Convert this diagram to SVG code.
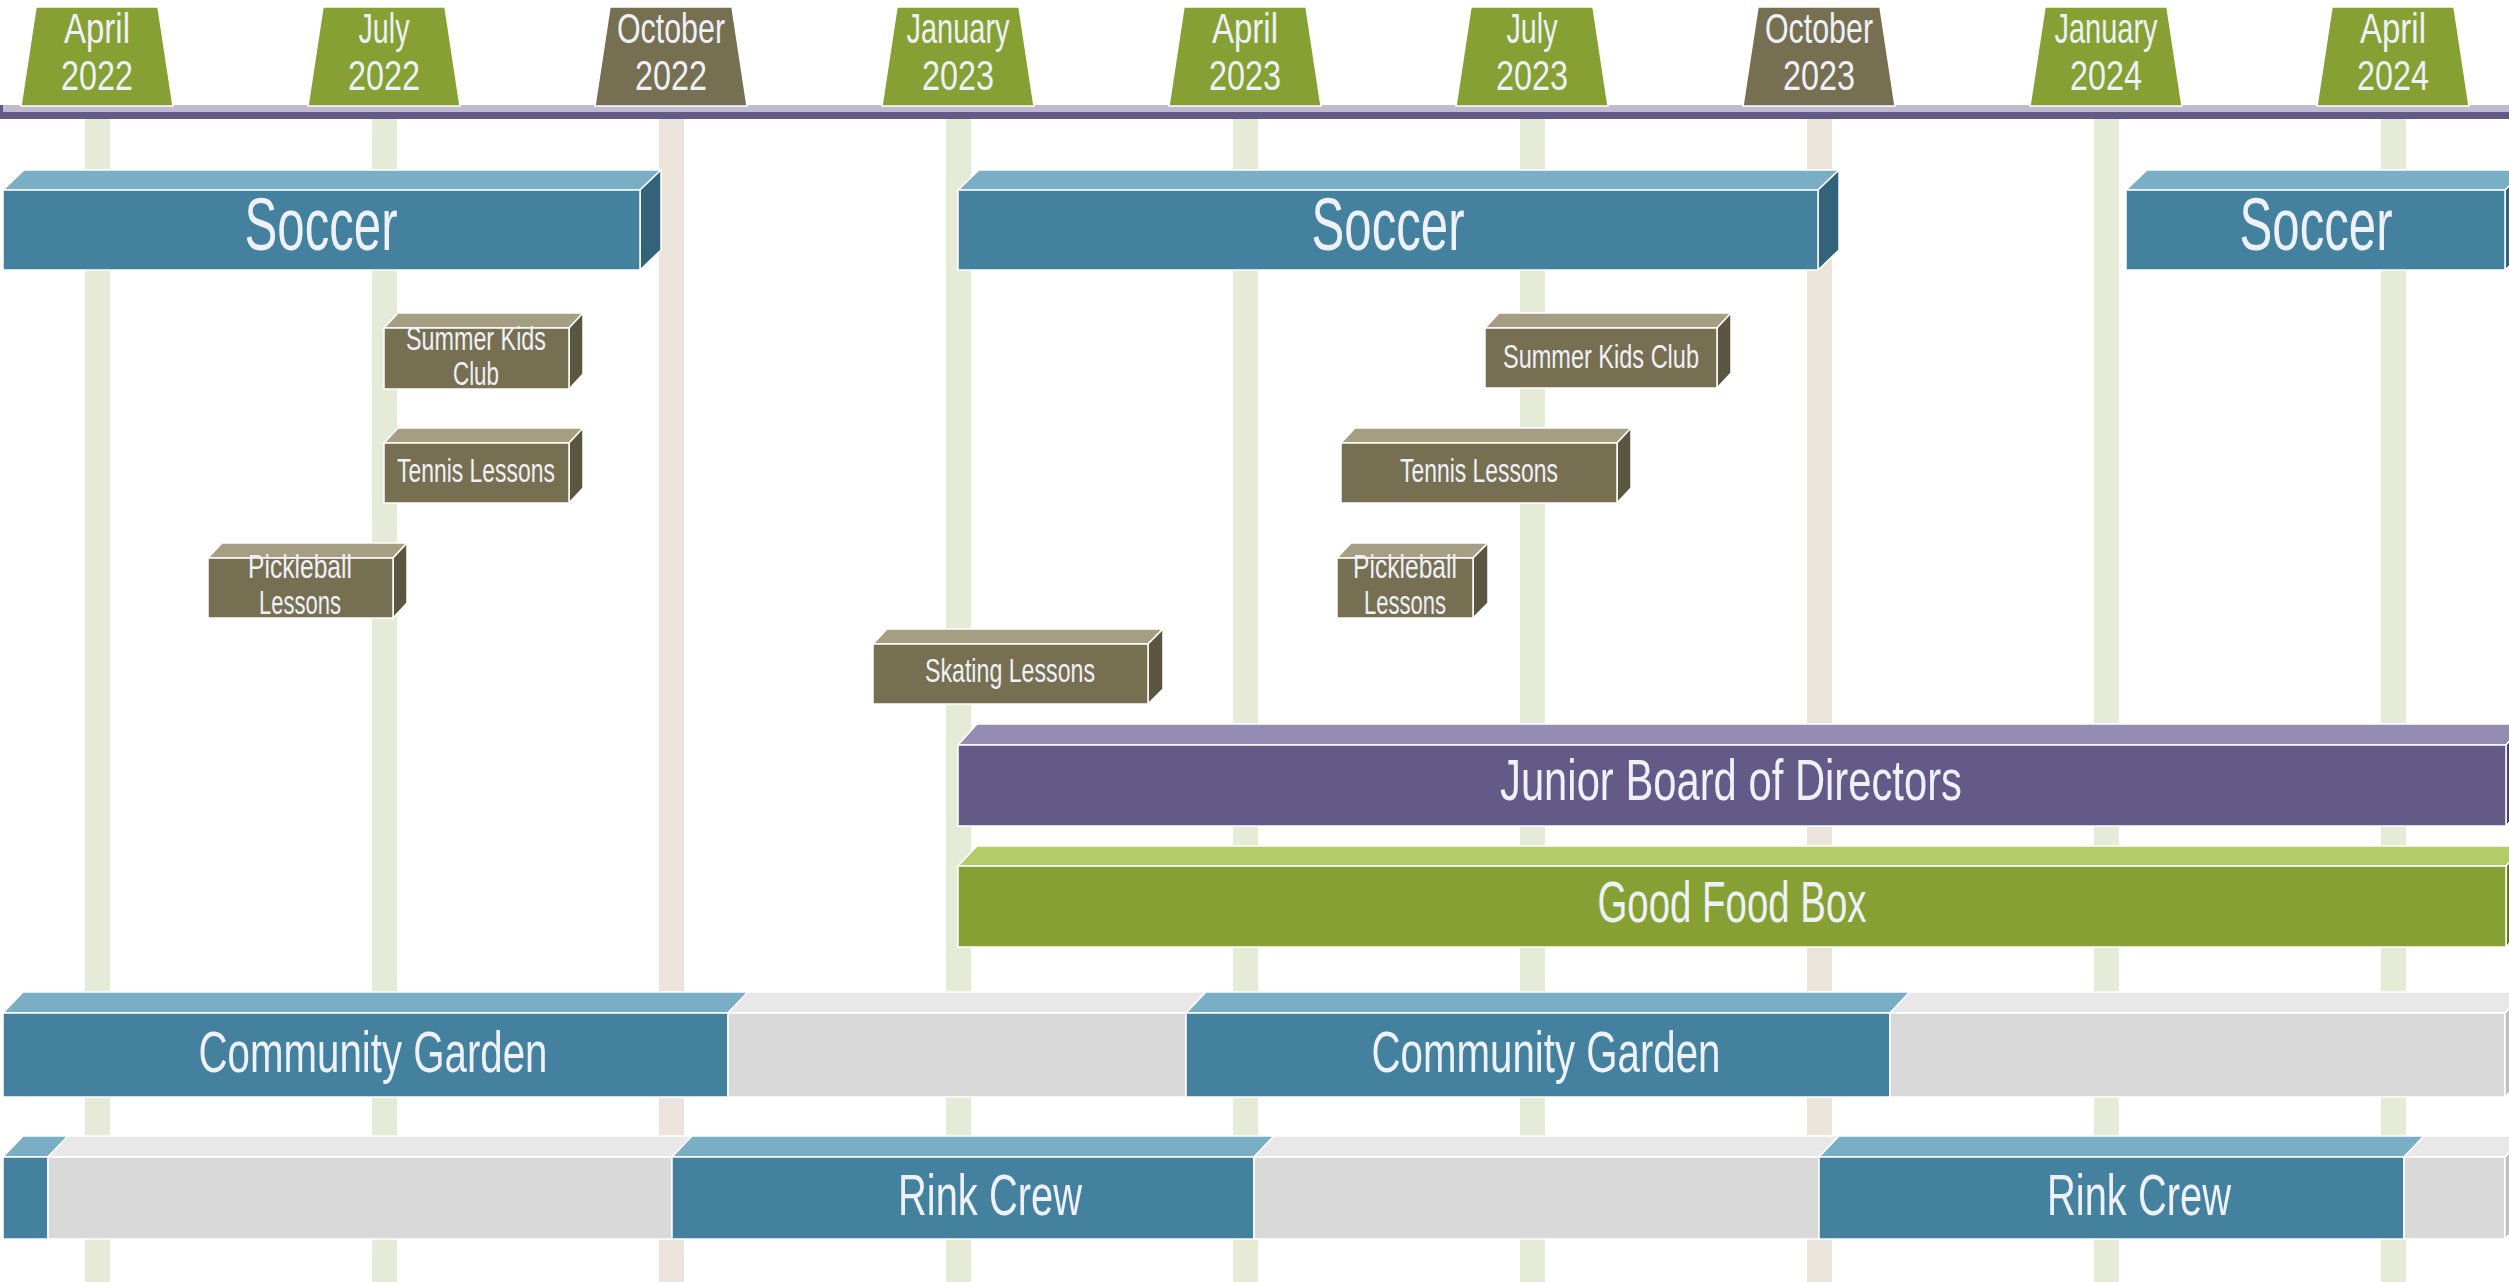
<svg xmlns="http://www.w3.org/2000/svg" width="2509" height="1282" viewBox="0 0 2509 1282">
<style>
text{font-family:"Liberation Sans",Arial,sans-serif;fill:#EEF1F8;text-anchor:middle}
.tab{font-size:43px}
.big{font-size:74px}
.mid{font-size:58px}
.sm{font-size:34px}
.gl{fill:#E6EBD8}
.gt{fill:#EAE4DB}
.tg{fill:#86A033;stroke:#fff;stroke-width:1.5}
.tb{fill:#776F52;stroke:#fff;stroke-width:1.5}
.f{stroke:#fff;stroke-width:1.5}
.bf{fill:#43819E}.bt{fill:#79AEC5}.bs{fill:#336379}
.nf{fill:#776F52}.nt{fill:#A69E82}.ns{fill:#5B563F}
.pf{fill:#635A87}.pt{fill:#948CB3}.ps{fill:#4A4366}
.gf{fill:#86A033}.gtp{fill:#B3CC68}.gs{fill:#66792A}
.yf{fill:#D9D9D9}.yt{fill:#E8E8E8}.ys{fill:#BFBFBF}
</style>
<rect width="2509" height="1282" fill="#fff"/>
<g id="gridlines">
<rect class="gl" x="85" y="118" width="25" height="1164"/>
<rect class="gl" x="372" y="118" width="25" height="1164"/>
<rect class="gt" x="659" y="118" width="25" height="1164"/>
<rect class="gl" x="946" y="118" width="25" height="1164"/>
<rect class="gl" x="1233" y="118" width="25" height="1164"/>
<rect class="gl" x="1520" y="118" width="25" height="1164"/>
<rect class="gt" x="1807" y="118" width="25" height="1164"/>
<rect class="gl" x="2094" y="118" width="25" height="1164"/>
<rect class="gl" x="2381" y="118" width="25" height="1164"/>
</g>
<g id="timeline-bar">
<rect x="0" y="105" width="2509" height="7" fill="#BFBAD0"/>
<rect x="0" y="112" width="2509" height="7" fill="#635A87"/>
<rect x="0" y="105" width="3" height="8" fill="#635A87"/>
</g>
<g id="tab-apr22"><polygon class="tg" points="36,7 158,7 173,106 21,106"/><text class="tab" x="97" y="43" textLength="66" lengthAdjust="spacingAndGlyphs">April</text><text class="tab" x="97" y="90" textLength="72" lengthAdjust="spacingAndGlyphs">2022</text></g>
<g id="tab-jul22"><polygon class="tg" points="323,7 445,7 460,106 308,106"/><text class="tab" x="384" y="43" textLength="51" lengthAdjust="spacingAndGlyphs">July</text><text class="tab" x="384" y="90" textLength="72" lengthAdjust="spacingAndGlyphs">2022</text></g>
<g id="tab-oct22"><polygon class="tb" points="610,7 732,7 747,106 595,106"/><text class="tab" x="671" y="43" textLength="108" lengthAdjust="spacingAndGlyphs">October</text><text class="tab" x="671" y="90" textLength="72" lengthAdjust="spacingAndGlyphs">2022</text></g>
<g id="tab-jan23"><polygon class="tg" points="897,7 1019,7 1034,106 882,106"/><text class="tab" x="958" y="43" textLength="103" lengthAdjust="spacingAndGlyphs">January</text><text class="tab" x="958" y="90" textLength="72" lengthAdjust="spacingAndGlyphs">2023</text></g>
<g id="tab-apr23"><polygon class="tg" points="1184,7 1306,7 1321,106 1169,106"/><text class="tab" x="1245" y="43" textLength="66" lengthAdjust="spacingAndGlyphs">April</text><text class="tab" x="1245" y="90" textLength="72" lengthAdjust="spacingAndGlyphs">2023</text></g>
<g id="tab-jul23"><polygon class="tg" points="1471,7 1593,7 1608,106 1456,106"/><text class="tab" x="1532" y="43" textLength="51" lengthAdjust="spacingAndGlyphs">July</text><text class="tab" x="1532" y="90" textLength="72" lengthAdjust="spacingAndGlyphs">2023</text></g>
<g id="tab-oct23"><polygon class="tb" points="1758,7 1880,7 1895,106 1743,106"/><text class="tab" x="1819" y="43" textLength="108" lengthAdjust="spacingAndGlyphs">October</text><text class="tab" x="1819" y="90" textLength="72" lengthAdjust="spacingAndGlyphs">2023</text></g>
<g id="tab-jan24"><polygon class="tg" points="2045,7 2167,7 2182,106 2030,106"/><text class="tab" x="2106" y="43" textLength="103" lengthAdjust="spacingAndGlyphs">January</text><text class="tab" x="2106" y="90" textLength="72" lengthAdjust="spacingAndGlyphs">2024</text></g>
<g id="tab-apr24"><polygon class="tg" points="2332,7 2454,7 2469,106 2317,106"/><text class="tab" x="2393" y="43" textLength="66" lengthAdjust="spacingAndGlyphs">April</text><text class="tab" x="2393" y="90" textLength="72" lengthAdjust="spacingAndGlyphs">2024</text></g>

<g id="soccer-1"><polygon class="bt f" points="3,190 24,170 661,170 640,190"/><polygon class="bs f" points="640,190 661,170 661,250 640,270"/><rect class="bf f" x="3" y="190" width="637" height="80"/><text class="big" x="321" y="250" textLength="153" lengthAdjust="spacingAndGlyphs">Soccer</text></g>
<g id="soccer-2"><polygon class="bt f" points="958,190 979,170 1839,170 1818,190"/><polygon class="bs f" points="1818,190 1839,170 1839,250 1818,270"/><rect class="bf f" x="958" y="190" width="860" height="80"/><text class="big" x="1388" y="250" textLength="153" lengthAdjust="spacingAndGlyphs">Soccer</text></g>
<g id="soccer-3"><polygon class="bt f" points="2126,190 2147,170 2526,170 2505,190"/><polygon class="bs f" points="2505,190 2526,170 2526,250 2505,270"/><rect class="bf f" x="2126" y="190" width="379" height="80"/><text class="big" x="2316" y="250" textLength="153" lengthAdjust="spacingAndGlyphs">Soccer</text></g>

<g id="summer-kids-club-1"><polygon class="nt f" points="384,328 398,313 583,313 569,328"/><polygon class="ns f" points="569,328 583,313 583,374 569,389"/><rect class="nf f" x="384" y="328" width="185" height="61"/><text class="sm" x="476" y="350" textLength="140" lengthAdjust="spacingAndGlyphs">Summer Kids</text><text class="sm" x="476" y="385" textLength="46" lengthAdjust="spacingAndGlyphs">Club</text></g>
<g id="tennis-1"><polygon class="nt f" points="384,443 398,428 583,428 569,443"/><polygon class="ns f" points="569,443 583,428 583,488 569,503"/><rect class="nf f" x="384" y="443" width="185" height="60"/><text class="sm" x="476" y="482" textLength="158" lengthAdjust="spacingAndGlyphs">Tennis Lessons</text></g>
<g id="pickleball-1"><polygon class="nt f" points="208,558 222,543 407,543 393,558"/><polygon class="ns f" points="393,558 407,543 407,603 393,618"/><rect class="nf f" x="208" y="558" width="185" height="60"/><text class="sm" x="300" y="578" textLength="104" lengthAdjust="spacingAndGlyphs">Pickleball</text><text class="sm" x="300" y="614" textLength="82" lengthAdjust="spacingAndGlyphs">Lessons</text></g>
<g id="summer-kids-club-2"><polygon class="nt f" points="1485,328 1499,313 1731,313 1717,328"/><polygon class="ns f" points="1717,328 1731,313 1731,373 1717,388"/><rect class="nf f" x="1485" y="328" width="232" height="60"/><text class="sm" x="1601" y="368" textLength="196" lengthAdjust="spacingAndGlyphs">Summer Kids Club</text></g>
<g id="tennis-2"><polygon class="nt f" points="1341,443 1355,428 1631,428 1617,443"/><polygon class="ns f" points="1617,443 1631,428 1631,488 1617,503"/><rect class="nf f" x="1341" y="443" width="276" height="60"/><text class="sm" x="1479" y="482" textLength="158" lengthAdjust="spacingAndGlyphs">Tennis Lessons</text></g>
<g id="pickleball-2"><polygon class="nt f" points="1337,558 1351,543 1488,543 1473,558"/><polygon class="ns f" points="1473,558 1488,543 1488,603 1473,618"/><rect class="nf f" x="1337" y="558" width="136" height="60"/><text class="sm" x="1405" y="578" textLength="104" lengthAdjust="spacingAndGlyphs">Pickleball</text><text class="sm" x="1405" y="614" textLength="82" lengthAdjust="spacingAndGlyphs">Lessons</text></g>
<g id="skating"><polygon class="nt f" points="873,644 887,629 1163,629 1148,644"/><polygon class="ns f" points="1148,644 1163,629 1163,689 1148,704"/><rect class="nf f" x="873" y="644" width="275" height="60"/><text class="sm" x="1010" y="682" textLength="170" lengthAdjust="spacingAndGlyphs">Skating Lessons</text></g>

<g id="junior-board"><polygon class="pt f" points="958,745 977,724 2525,724 2506,745"/><polygon class="ps f" points="2506,745 2525,724 2525,805 2506,826"/><rect class="pf f" x="958" y="745" width="1548" height="81"/><text class="mid" x="1731" y="800" textLength="462" lengthAdjust="spacingAndGlyphs">Junior Board of Directors</text></g>
<g id="good-food-box"><polygon class="gtp f" points="958,866 977,846 2525,846 2506,866"/><polygon class="gs f" points="2506,866 2525,846 2525,927 2506,947"/><rect class="gf f" x="958" y="866" width="1548" height="81"/><text class="mid" x="1732" y="922" textLength="269" lengthAdjust="spacingAndGlyphs">Good Food Box</text></g>

<g id="community-garden">
<polygon class="bt f" points="3,1013 23,992 748,992 728,1013"/><rect class="bf f" x="3" y="1013" width="725" height="84"/>
<polygon class="yt f" points="728,1013 748,992 1206,992 1186,1013"/><rect class="yf f" x="728" y="1013" width="458" height="84"/>
<polygon class="bt f" points="1186,1013 1206,992 1910,992 1890,1013"/><rect class="bf f" x="1186" y="1013" width="704" height="84"/>
<polygon class="yt f" points="1890,1013 1910,992 2525,992 2505,1013"/><rect class="yf f" x="1890" y="1013" width="615" height="84"/>
<polygon class="ys f" points="2505,1013 2525,992 2525,1076 2505,1097"/>
<text class="mid" x="373" y="1072" textLength="349" lengthAdjust="spacingAndGlyphs">Community Garden</text>
<text class="mid" x="1546" y="1072" textLength="349" lengthAdjust="spacingAndGlyphs">Community Garden</text>
</g>
<g id="rink-crew">
<polygon class="bt f" points="3,1157 23,1136 68,1136 48,1157"/><rect class="bf f" x="3" y="1157" width="45" height="82"/>
<polygon class="yt f" points="48,1157 68,1136 692,1136 672,1157"/><rect class="yf f" x="48" y="1157" width="624" height="82"/>
<polygon class="bt f" points="672,1157 692,1136 1274,1136 1254,1157"/><rect class="bf f" x="672" y="1157" width="582" height="82"/>
<polygon class="yt f" points="1254,1157 1274,1136 1839,1136 1819,1157"/><rect class="yf f" x="1254" y="1157" width="565" height="82"/>
<polygon class="bt f" points="1819,1157 1839,1136 2424,1136 2404,1157"/><rect class="bf f" x="1819" y="1157" width="585" height="82"/>
<polygon class="yt f" points="2404,1157 2424,1136 2525,1136 2505,1157"/><rect class="yf f" x="2404" y="1157" width="101" height="82"/>
<polygon class="ys f" points="2505,1157 2525,1136 2525,1218 2505,1239"/>
<text class="mid" x="990" y="1215" textLength="184" lengthAdjust="spacingAndGlyphs">Rink Crew</text>
<text class="mid" x="2139" y="1215" textLength="184" lengthAdjust="spacingAndGlyphs">Rink Crew</text>
</g>
</svg>
